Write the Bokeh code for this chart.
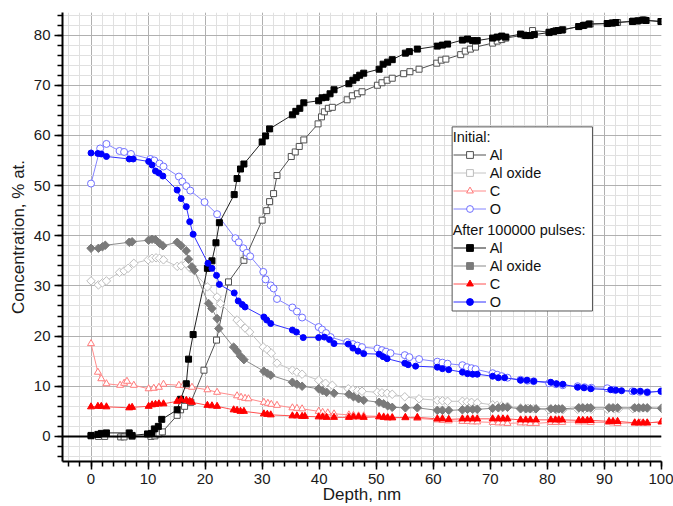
import math
from bokeh.plotting import figure
from bokeh.models import (Range1d, SingleIntervalTicker, Span, Legend, LegendItem,
                          BoxAnnotation)
from bokeh.embed import file_html
from bokeh.resources import INLINE

# ---------------- data (depth in nm, concentration in % at.) ----------------
al0_x = [0, 1.3, 2.4, 5.2, 5.8, 7.2, 10.5, 11.2, 11.9, 12.5, 15.1, 15.7, 16.4, 17.5, 19.8, 22.0, 24.1,
         26.8, 27.2, 30.0, 30.8, 31.3, 32.0, 32.6, 35.1, 35.8, 36.5, 37.3, 39.8, 40.4, 40.9, 41.6, 42.3,
         44.9, 45.8, 46.7, 47.5, 50.2, 51.0, 51.9, 52.8, 54.8, 55.9, 57.5, 60.6, 61.4, 62.2, 64.8, 65.6,
         66.5, 67.4, 70.4, 71.2, 72.0, 72.7, 75.9, 77.4, 80.3, 81.5, 82.7, 85.5, 86.5, 87.5, 90.5, 91.5,
         92.3, 95.0, 96.0, 97.0, 100]
al0_y = [0.1, 0.0, 0.0, -0.1, -0.1, 0.0, 0.0, 0.1, 0.5, 0.9, 4.2, 5.3, 6.0, 6.8, 13.2, 19.2, 30.8,
         35.1, 36.0, 43.1, 45.0, 46.8, 48.4, 52.0, 55.8, 56.7, 57.8, 59.1, 62.3, 63.7, 64.7, 65.4, 65.6,
         67.1, 67.9, 68.3, 68.7, 70.0, 70.5, 71.0, 71.4, 72.3, 72.7, 73.2, 74.4, 75.0, 75.2, 76.1, 76.8,
         77.2, 77.6, 78.4, 78.8, 79.1, 79.4, 80.0, 80.9, 80.6, 80.9, 81.1, 81.7, 82.0, 82.2, 82.3, 82.4,
         82.5, 82.8, 82.9, 83.0, 82.7]

al1_x = [0, 1.2, 1.8, 2.7, 6.7, 7.2, 9.9, 10.6, 11.1, 11.8, 12.4, 15.1, 15.7, 16.7, 17.1, 17.9, 20.4,
         21.2, 21.9, 22.5, 25.1, 25.6, 26.2, 26.8, 30.0, 30.6, 31.3, 35.3, 35.9, 36.6, 37.3, 39.9, 40.5,
         41.2, 41.9, 42.6, 45.2, 45.9, 46.5, 47.1, 47.8, 50.5, 51.2, 52.0, 52.8, 55.1, 55.8, 57.2, 60.7,
         61.6, 62.5, 65.1, 66.0, 66.9, 67.7, 70.4, 71.2, 72.0, 72.7, 75.3, 76.2, 77.0, 77.7, 80.3, 81.1,
         81.9, 82.6, 85.5, 86.3, 87.3, 90.5, 91.3, 92.0, 94.9, 95.8, 96.7, 97.3, 99.9]
al1_y = [0.2, 0.4, 0.6, 0.7, 0.7, 0.2, 0.5, 0.6, 1.5, 2.0, 3.4, 5.3, 7.4, 10.5, 15.4, 20.3, 33.5,
         35.0, 38.6, 42.6, 48.2, 51.4, 53.3, 54.3, 58.7, 59.9, 61.3, 64.1, 64.8, 65.4, 66.5, 66.9, 67.5,
         67.6, 68.3, 69.1, 70.3, 71.0, 71.5, 72.0, 72.4, 73.2, 74.2, 74.6, 75.1, 76.4, 76.7, 77.2, 77.8,
         78.0, 78.2, 79.0, 79.2, 78.9, 78.9, 79.4, 79.6, 79.8, 79.6, 80.2, 79.9, 79.9, 80.1, 80.5, 80.7,
         80.9, 81.0, 81.7, 81.9, 82.2, 82.3, 82.4, 82.5, 82.7, 82.8, 83.0, 82.9, 82.7]

ox0_x = [0, 1.3, 2.0, 2.7, 5.0, 5.8, 6.5, 7.5, 10.0, 10.7, 11.4, 12.0, 12.7, 15.1, 15.8, 16.7, 17.4,
         20.4, 22.1, 22.7, 25.6, 26.2, 27.0, 27.8, 30.2, 30.9, 31.6, 32.6, 35.3, 36.1, 37.0, 39.9, 41.1,
         42.3, 45.1, 45.9, 46.7, 47.5, 50.2, 51.0, 51.9, 52.8, 55.0, 57.5, 60.7, 61.6, 62.5, 65.1, 65.9,
         66.7, 67.7, 70.4, 71.2, 72.0, 73.0, 75.3, 76.6, 77.6, 80.3, 81.5, 82.7, 85.3, 86.5, 87.7, 90.5,
         91.7, 92.5, 95.0, 96.2, 97.5, 100]
ox0_y = [31.0, 30.2, 30.6, 31.0, 32.7, 33.0, 33.5, 34.5, 35.2, 35.5, 35.6, 35.5, 35.2, 33.9, 34.0, 34.4,
         33.5, 29.8, 27.8, 26.5, 23.2, 22.5, 21.6, 20.8, 17.8, 17.3, 16.6, 14.6, 13.2, 12.8, 12.4, 11.2,
         10.6, 10.2, 9.5, 9.3, 9.1, 9.0, 8.8, 8.7, 8.6, 8.4, 7.9, 7.5, 7.2, 7.1, 7.0, 7.0, 6.9, 6.8, 6.7,
         6.3, 6.2, 6.1, 6.0, 5.7, 5.6, 5.5, 5.3, 5.3, 5.3, 5.4, 5.4, 5.4, 5.4, 5.5, 5.5, 5.5, 5.6, 5.6, 5.6]

ox1_x = [0, 1.3, 2.0, 2.5, 6.7, 7.2, 10.1, 10.7, 11.3, 12.0, 12.6, 15.1, 15.8, 16.7, 17.1, 17.7, 18.1,
         20.6, 21.2, 22.1, 22.4, 25.0, 25.6, 26.2, 26.8, 30.3, 30.9, 31.5, 35.3, 36.1, 37.0, 39.9, 40.6,
         41.3, 42.6, 45.2, 46.0, 46.9, 47.8, 50.5, 51.3, 52.0, 52.8, 55.1, 57.2, 60.7, 61.6, 62.7, 65.1,
         66.0, 66.9, 67.7, 70.4, 71.4, 72.2, 73.0, 75.3, 76.2, 77.0, 78.0, 80.6, 81.4, 82.0, 82.6, 85.5,
         86.2, 87.0, 87.6, 90.8, 91.5, 92.3, 95.3, 96.0, 96.8, 97.5, 100]
ox1_y = [37.5, 37.5, 37.8, 38.1, 38.7, 38.8, 39.1, 39.3, 39.2, 38.5, 38.0, 38.7, 38.0, 37.0, 35.3, 33.8,
         33.1, 26.5, 25.5, 23.5, 21.5, 17.8, 17.0, 16.0, 15.3, 13.0, 12.6, 12.2, 10.8, 10.4, 10.0, 9.5,
         9.1, 8.8, 8.6, 8.4, 7.9, 7.5, 7.2, 6.8, 6.5, 6.1, 5.8, 5.7, 5.7, 5.2, 5.2, 5.2, 5.3, 5.4, 5.4,
         5.4, 5.6, 5.7, 5.8, 5.8, 5.5, 5.5, 5.5, 5.5, 5.5, 5.5, 5.5, 5.5, 5.7, 5.7, 5.7, 5.7, 5.7, 5.7,
         5.7, 5.7, 5.7, 5.7, 5.7, 5.6]

c0_x = [0, 1.2, 1.8, 2.7, 5.1, 5.8, 6.3, 7.5, 10.1, 11.0, 11.9, 12.7, 15.4, 16.2, 17.0, 17.7, 20.4,
        22.1, 25.6, 26.3, 27.0, 27.6, 30.3, 31.0, 31.6, 32.6, 35.3, 36.1, 37.0, 39.9, 40.6, 41.5, 42.6,
        45.2, 46.0, 46.9, 47.8, 50.5, 51.3, 52.0, 52.8, 55.1, 57.2, 60.7, 61.6, 62.7, 65.1, 66.0, 66.9,
        67.7, 70.4, 71.4, 72.2, 73.0, 75.3, 76.2, 77.0, 78.0, 80.6, 81.4, 82.6, 85.5, 86.5, 87.6, 90.8,
        91.5, 92.3, 95.3, 96.3, 97.5, 100]
c0_y = [18.5, 12.8, 11.5, 10.5, 10.2, 10.6, 11.0, 10.2, 9.5, 9.6, 9.8, 10.4, 10.2, 10.2, 10.0, 9.8,
        9.3, 8.8, 8.1, 7.8, 7.6, 7.5, 6.8, 6.6, 6.4, 6.2, 5.7, 5.6, 5.5, 5.0, 4.8, 4.7, 4.5, 4.3, 4.2,
        4.1, 4.1, 4.0, 3.9, 3.8, 3.8, 3.7, 3.6, 3.3, 3.2, 3.1, 3.0, 3.0, 2.9, 2.9, 2.8, 2.7, 2.7, 2.6,
        2.7, 2.7, 2.6, 2.6, 2.8, 2.8, 2.8, 2.9, 2.9, 2.8, 2.8, 2.7, 2.6, 2.7, 2.7, 2.7, 2.9]

c1_x = [0, 1.2, 1.8, 2.7, 6.7, 7.2, 10.1, 10.7, 11.3, 11.9, 12.7, 15.1, 15.8, 16.7, 17.3, 17.7, 20.4,
        21.2, 22.1, 25.0, 25.6, 26.2, 26.8, 30.3, 30.9, 31.5, 35.3, 36.1, 37.0, 37.5, 39.9, 40.6, 41.3,
        42.6, 45.2, 46.0, 46.9, 47.8, 50.5, 51.3, 52.0, 52.8, 55.1, 57.2, 60.7, 61.6, 62.7, 65.1, 66.0,
        66.9, 67.7, 70.4, 71.4, 72.2, 73.0, 75.3, 76.2, 77.0, 78.0, 80.6, 81.4, 82.0, 82.6, 85.5, 86.2,
        87.0, 87.6, 90.8, 91.5, 92.3, 95.3, 96.0, 96.8, 97.5, 100]
c1_y = [5.9, 6.0, 6.0, 5.9, 5.7, 5.8, 6.0, 6.3, 6.4, 6.5, 6.5, 7.0, 7.3, 7.2, 7.0, 6.8, 6.2, 6.1, 6.0,
        5.3, 5.2, 5.0, 5.0, 4.5, 4.4, 4.3, 4.1, 4.1, 4.0, 4.0, 3.9, 3.9, 3.8, 3.8, 3.8, 3.9, 3.9, 3.8,
        3.9, 3.8, 3.7, 3.7, 3.8, 3.8, 3.5, 3.5, 3.4, 3.5, 3.5, 3.5, 3.5, 3.5, 3.5, 3.5, 3.5, 3.3, 3.3,
        3.3, 3.3, 3.3, 3.3, 3.3, 3.3, 3.2, 3.2, 3.2, 3.2, 3.0, 3.0, 3.0, 2.7, 2.7, 2.7, 2.7, 2.9]

o0_x = [0, 1.6, 2.7, 5.0, 5.8, 7.0, 10.4, 11.1, 12.0, 12.7, 15.4, 16.0, 16.7, 17.4, 19.9, 22.1, 25.3,
        25.9, 26.7, 27.3, 27.9, 30.2, 30.6, 31.5, 32.0, 32.6, 35.3, 36.1, 37.0, 39.9, 40.5, 41.2, 42.0,
        44.9, 45.9, 46.7, 47.5, 50.2, 51.0, 51.7, 52.5, 55.0, 55.8, 57.5, 60.7, 61.6, 62.5, 65.1, 65.9,
        66.7, 67.4, 70.4, 71.2, 72.0, 73.0, 75.3, 76.5, 77.6, 80.3, 81.5, 82.7, 85.3, 86.5, 87.7, 90.5,
        91.7, 94.9, 96.2, 97.5, 100]
o0_y = [50.4, 57.4, 58.3, 56.9, 56.7, 56.3, 55.3, 55.0, 54.4, 53.8, 51.8, 50.8, 49.9, 49.0, 46.7, 44.3,
        39.5, 38.7, 37.5, 36.6, 35.9, 32.8, 31.3, 30.1, 29.5, 27.4, 25.7, 24.9, 23.7, 21.8, 21.3, 20.6,
        19.8, 18.8, 18.4, 18.1, 17.8, 17.5, 17.2, 16.9, 16.6, 16.2, 15.8, 15.4, 14.9, 14.7, 14.5, 14.2,
        13.8, 13.6, 13.4, 12.6, 12.3, 12.0, 11.7, 11.3, 11.1, 11.0, 10.6, 10.4, 10.2, 10.0, 9.8, 9.7,
        9.6, 9.3, 9.0, 8.9, 8.8, 9.0]

o1_x = [0, 1.2, 1.8, 2.7, 6.7, 7.4, 10.1, 10.7, 11.3, 11.9, 12.6, 15.1, 15.8, 16.7, 17.3, 17.9, 20.5,
        21.2, 22.0, 22.5, 25.1, 25.8, 26.5, 27.0, 30.3, 30.8, 31.5, 35.3, 36.0, 37.2, 39.9, 40.9, 41.8,
        42.6, 45.1, 45.9, 46.8, 47.8, 50.5, 51.2, 51.9, 55.0, 55.6, 56.9, 60.7, 61.6, 62.7, 65.1, 66.0,
        66.9, 67.7, 70.4, 71.4, 72.5, 75.3, 76.4, 77.6, 80.6, 81.6, 82.7, 85.3, 86.4, 87.6, 91.1, 92.0,
        93.0, 95.2, 96.3, 97.5, 99.9]
o1_y = [56.5, 56.4, 56.3, 55.8, 55.3, 55.3, 54.8, 54.1, 52.9, 52.5, 51.9, 49.1, 47.4, 45.8, 42.8, 40.3,
        34.5, 33.5, 32.1, 30.3, 28.6, 27.0, 26.3, 25.8, 23.8, 23.2, 22.5, 21.2, 20.8, 19.7, 19.7, 19.8,
        19.3, 18.5, 18.4, 17.6, 17.0, 16.5, 16.4, 15.9, 15.5, 14.6, 14.3, 14.0, 13.8, 13.5, 13.3, 12.8,
        12.5, 12.4, 12.4, 12.0, 11.7, 11.7, 11.2, 11.2, 11.0, 10.8, 10.5, 10.4, 9.8, 9.7, 9.5, 9.3, 9.2,
        9.1, 9.0, 9.0, 8.8, 9.0]

labels = ["Al", "Al oxide", "C", "O"]
title_initial = "Initial:"
title_after = "After 100000 pulses:"

# ---------------- figure ----------------
FONT = "Liberation Sans"
X0, X1, Y0, Y1 = -5, 100, -5, 84.5
W, H = 673, 506
ML, MR, MT, MB = 62, 12, 12, 45

p = figure(width=W, height=H, output_backend="svg", toolbar_location=None,
           x_range=Range1d(X0, X1), y_range=Range1d(Y0, Y1),
           min_border_left=ML, min_border_right=MR, min_border_top=MT, min_border_bottom=MB,
           background_fill_color="white", border_fill_color="white")
p.outline_line_color = None

for ax in (p.xaxis[0], p.yaxis[0]):
    ax.ticker = SingleIntervalTicker(interval=10, num_minor_ticks=5)
    ax.axis_line_width = 2
    ax.axis_line_color = "black"
    ax.major_tick_in = 0
    ax.major_tick_out = 8
    ax.minor_tick_in = 0
    ax.minor_tick_out = 5
    ax.major_tick_line_width = 1.5
    ax.minor_tick_line_width = 1.5
    ax.major_tick_line_color = "black"
    ax.minor_tick_line_color = "black"
    ax.major_label_text_font = FONT
    ax.major_label_text_font_size = "15px"
    ax.major_label_text_color = "#1a1a1a"
    ax.major_label_standoff = 4
    ax.axis_label_text_font = FONT
    ax.axis_label_text_font_size = "17px"
    ax.axis_label_text_font_style = "normal"
    ax.axis_label_text_color = "#1a1a1a"

p.xaxis.axis_label = "Depth, nm"
p.xaxis.axis_label_standoff = -2
p.yaxis.axis_label = "Concentration, % at."
p.yaxis.axis_label_standoff = 3

for g in (p.xgrid[0], p.ygrid[0]):
    g.grid_line_color = "#b0b0b0"
    g.grid_line_width = 1
    g.minor_grid_line_color = "#e0e0e0"
    g.minor_grid_line_width = 1

p.add_layout(Span(location=0, dimension="width", line_color="black", line_width=2))

# ---------------- series ----------------
D45 = math.pi / 4
styles = [
    # (x, y, line colour, marker, marker line colour, marker fill colour, size, angle)
    (al0_x, al0_y, "#505050", "square", "#505050", "white", 6, 0),
    (ox0_x, ox0_y, "#c4c4c4", "square", "#bdbdbd", "white", 6, D45),
    (c0_x, c0_y, "#ff8c8c", "triangle", "#ff7a7a", "white", 7, 0),
    (o0_x, o0_y, "#8484ff", "circle", "#6f6fff", "white", 7, 0),
    (al1_x, al1_y, "#202020", "square", "black", "black", 6, 0),
    (ox1_x, ox1_y, "#8a8a8a", "square", "#7a7a7a", "#7a7a7a", 6, D45),
    (c1_x, c1_y, "#ff5050", "triangle", "#ff0000", "#ff0000", 7, 0),
    (o1_x, o1_y, "#3030ff", "circle", "#0000ff", "#0000ff", 6, 0),
]

pairs = []
for (xs, ys, lc, mk, mlc, mfc, sz, ang) in styles:
    ln = p.line(xs, ys, line_color=lc, line_width=1)
    sc = p.scatter(xs, ys, marker=mk, size=sz, angle=ang, line_color=mlc, fill_color=mfc,
                   line_width=1)
    pairs.append([ln, sc])

# ---------------- legend ----------------
# legend box position (data units)
BL, BR, BB, BT, BM = 63.3, 87.9, 25.0, 61.7, 43.4
FW = W - ML - MR
FH = H - MT - MB


def sx(v):
    return (v - X0) / (X1 - X0) * FW


def sy(v):
    return (v - Y0) / (Y1 - Y0) * FH


p.add_layout(BoxAnnotation(left=BL, right=BR, bottom=BB, top=BT, fill_color="white",
                           fill_alpha=1, line_color="#555555", line_width=1, line_alpha=1))

common = dict(border_line_color=None, background_fill_alpha=0, padding=2, margin=0,
              spacing=1, glyph_width=33, glyph_height=17, label_height=17, label_standoff=4,
              label_text_font=FONT, label_text_font_size="14.5px", label_text_color="#111111",
              title_text_font=FONT, title_text_font_size="14.5px", title_text_font_style="normal",
              title_text_color="#111111", title_standoff=1)

leg1 = Legend(items=[LegendItem(label=labels[i], renderers=pairs[i]) for i in range(4)],
              title=title_initial, location=(sx(BL) + 1, sy(BM) + 1), **common)
leg2 = Legend(items=[LegendItem(label=labels[i], renderers=pairs[4 + i]) for i in range(4)],
              title=title_after, location=(sx(BL) + 1, sy(BB)), **common)
p.add_layout(leg1)
p.add_layout(leg2)

open("out.html", "w").write(file_html(p, INLINE))
